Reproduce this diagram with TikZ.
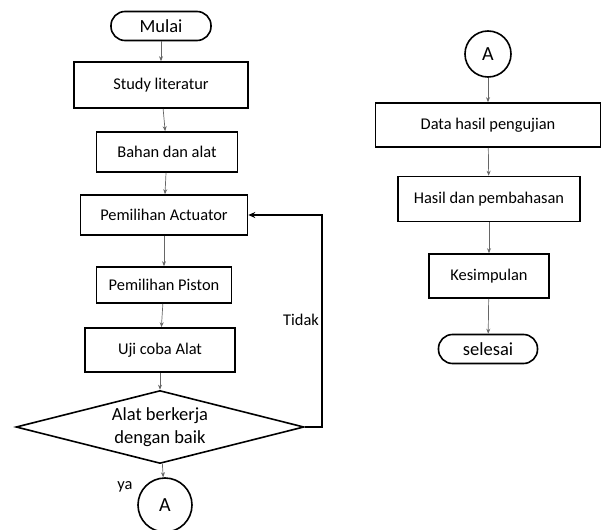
\documentclass[tikz,border=0pt]{standalone}
\usepackage{fontspec}
\setmainfont{Carlito}
\usetikzlibrary{shapes.geometric,arrows.meta}

\begin{document}
\begin{tikzpicture}[
    x=1pt, y=-1pt,
    >={Stealth[length=5pt, width=4pt]},
    every node/.style={inner sep=0pt, font=\fontsize{16.4}{19}\selectfont},
    procbox/.style={draw, line width=1.6pt},
    termbox/.style={draw, line width=1.6pt, rounded corners=14pt, minimum height=29pt,
                    font=\fontsize{18.5}{22}\selectfont},
    decision/.style={draw, diamond, aspect=3.95, line width=1.6pt, align=center,
                     font=\fontsize{18.5}{23}\selectfont},
    connector/.style={draw, circle, line width=1.6pt, font=\fontsize{20}{24}\selectfont},
    flowedge/.style={->, draw=black!60, line width=0.7pt},
    loopedge/.style={->, draw=black, line width=1.6pt, >={Stealth[length=7pt, width=6pt]}}
]
\useasboundingbox (0,0) rectangle (606,530);
\clip (0,0) rectangle (606,530);

% left column
\node[termbox, minimum width=100pt] (mulai) at (161,26) {Mulai};
\node[procbox, minimum width=174pt, minimum height=46pt] (study) at (161,85) {Study literatur};
\node[procbox, minimum width=141pt, minimum height=40pt] (bahan) at (167,152) {Bahan dan alat};
\node[procbox, minimum width=167pt, minimum height=40pt] (actuator) at (164,215) {Pemilihan Actuator};
\node[procbox, minimum width=135pt, minimum height=36pt] (piston) at (164,285) {Pemilihan Piston};
\node[procbox, minimum width=150pt, minimum height=44pt] (uji) at (160,350) {Uji coba Alat};
\node[decision, minimum width=288pt, minimum height=73pt] (cek) at (160,427) {Alat berkerja\\dengan baik};
\node[connector, minimum size=54pt] (conA) at (165,505) {A};

\draw[flowedge] (mulai) -- (study);
\draw[flowedge] (study) -- (bahan);
\draw[flowedge] (bahan) -- (actuator);
\draw[flowedge] (actuator) -- (piston);
\draw[flowedge] (piston) -- (uji);
\draw[flowedge] (uji) -- (cek);
\draw[flowedge] (cek) -- (conA);

\coordinate (turn) at (322,215);
\draw[loopedge] (cek.east) -| (turn) -- (actuator.east);
\node (tidak) at (301,320) {Tidak};
\node (ya) at (125,487) {ya};

% right column
\node[connector, minimum size=46pt] (conB) at (488,54) {A};
\node[procbox, minimum width=225pt, minimum height=44pt] (data) at (488,125) {Data hasil pengujian};
\node[procbox, minimum width=182pt, minimum height=45pt] (hasil) at (489,199) {Hasil dan pembahasan};
\node[procbox, minimum width=120pt, minimum height=44pt] (simpul) at (489,276) {Kesimpulan};
\node[termbox, minimum width=99pt] (selesai) at (488,349) {selesai};

\draw[flowedge] (conB) -- (data);
\draw[flowedge] (data) -- (hasil);
\draw[flowedge] (hasil) -- (simpul);
\draw[flowedge] (simpul) -- (selesai);

\end{tikzpicture}
\end{document}
